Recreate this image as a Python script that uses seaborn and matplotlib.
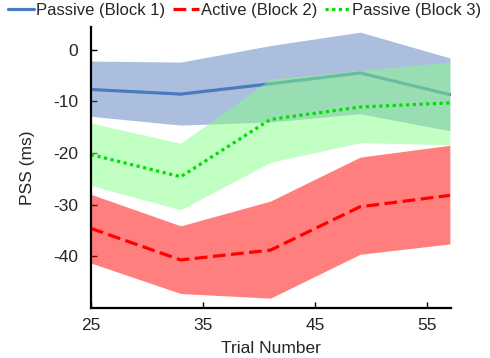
import numpy as np
import pandas as pd
import seaborn as sns
import matplotlib
matplotlib.use("Agg")
import matplotlib.pyplot as plt

# trial bins
trials = [25, 33, 41, 49, 57]

# PSS mean and band limits per block (ms)
block1_mean = [-7.7, -8.6, -6.6, -4.5, -8.7]
block1_upper = [-2.2, -2.4, 0.8, 3.4, -1.6]
block1_lower = [-12.9, -14.6, -14.0, -12.4, -15.7]

block2_mean = [-34.6, -40.7, -38.8, -30.4, -28.2]
block2_upper = [-28.0, -34.1, -29.3, -20.8, -18.5]
block2_lower = [-41.3, -47.2, -48.1, -39.6, -37.6]

block3_mean = [-20.3, -24.6, -13.5, -11.1, -10.3]
block3_upper = [-14.2, -18.1, -5.7, -4.0, -2.4]
block3_lower = [-26.3, -31.0, -21.8, -18.0, -18.4]

labels = ["Passive (Block 1)", "Active (Block 2)", "Passive (Block 3)"]
yticks = [0, -10, -20, -30, -40]
xticks = [25, 35, 45, 55]

sns.set_style("ticks")
plt.rcParams["font.family"] = ["Liberation Sans", "DejaVu Sans"]
plt.rcParams["font.size"] = 12.5
plt.rcParams["axes.unicode_minus"] = False

df = pd.DataFrame({"trial": trials, "b1": block1_mean, "b2": block2_mean, "b3": block3_mean})

fig = plt.figure(figsize=(4.9, 3.58), dpi=100)
ax = fig.add_axes([0.1857, 0.1397, 0.7347, 0.785])

# drawing order matters: the green band sits over the block 1 line
ax.fill_between(trials, block1_lower, block1_upper, color="#4b73b9", alpha=0.46, lw=0, zorder=1)
sns.lineplot(data=df, x="trial", y="b1", color="#4a7abf", lw=2.3, ax=ax, label=labels[0], zorder=2)

ax.fill_between(trials, block3_lower, block3_upper, color="#87ff87", alpha=0.5, lw=0, zorder=3)
l3 = sns.lineplot(data=df, x="trial", y="b3", color="#00e000", lw=2.3, ax=ax,
                  label=labels[2], zorder=4).lines[-1]
l3.set_linestyle((0, (1, 1.1)))
l3.set_dash_capstyle("butt")

ax.fill_between(trials, block2_lower, block2_upper, color="#ff0000", alpha=0.5, lw=0, zorder=5)
l2 = sns.lineplot(data=df, x="trial", y="b2", color="#ff0000", lw=2.3, ax=ax,
                  label=labels[1], zorder=6).lines[-1]
l2.set_linestyle((0, (4, 1.7)))
l2.set_dash_capstyle("butt")

ax.set_xlim(25, 57.1)
ax.set_ylim(-50, 4.4)
ax.set_xticks(xticks)
ax.set_yticks(yticks)
ax.tick_params(direction="in", length=4, width=1, labelsize=12.5, color="black")
ax.tick_params(axis="y", pad=9)
ax.tick_params(axis="x", pad=7)
for s in ["left", "bottom"]:
    ax.spines[s].set_linewidth(1.6)
    ax.spines[s].set_color("black")
    ax.spines[s].set_zorder(10)
sns.despine(ax=ax)

ax.set_xlabel("Trial Number", fontsize=12.5, labelpad=6)
ax.set_ylabel("PSS (ms)", fontsize=12.5, labelpad=13)

handles, labs = ax.get_legend_handles_labels()
order = [labs.index(l) for l in labels]
ax.get_legend().remove()
fig.legend([handles[i] for i in order], labels, loc="upper center", bbox_to_anchor=(0.5, 1.0),
           ncol=3, frameon=False, handlelength=1.55, handletextpad=0.12, columnspacing=0.45,
           borderpad=0, borderaxespad=0.2, fontsize=12)

fig.savefig("out.png", dpi=100)
